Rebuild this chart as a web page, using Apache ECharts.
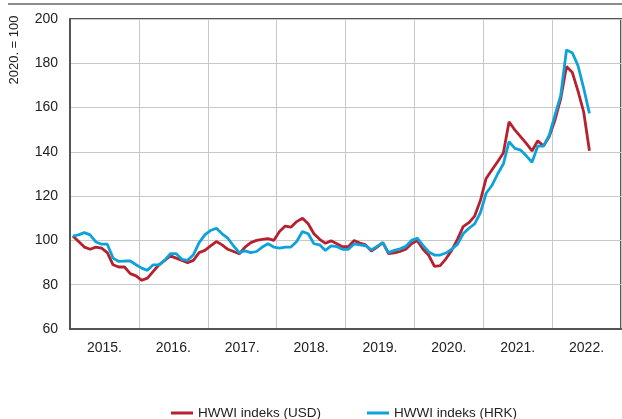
<!DOCTYPE html>
<html>
<head>
<meta charset="utf-8">
<script src="https://cdn.jsdelivr.net/npm/echarts@6/dist/echarts.min.js"></script>
<style>
  html, body { margin: 0; padding: 0; background: #fff; }
  #chart { width: 622px; height: 419px; }
</style>
</head>
<body>
<div id="chart"></div>
<script>
// year labels under the axis
var years = ['2015.', '2016.', '2017.', '2018.', '2019.', '2020.', '2021.', '2022.'];

// monthly values, Jan 2015 - Jul 2022 (2020. = 100)
var usd = [
  102, 99.5, 97, 96, 97, 96.5, 94.5, 89, 88, 88, 85, 84,
  82, 83, 86, 89, 91, 93, 92, 91, 90, 91, 94.5, 95.5,
  97.5, 99.5, 98, 96, 95, 94, 97, 99, 100, 100.5, 100.8, 100,
  104, 106.5, 106, 108.5, 110, 107.5, 103, 100.5, 98.7, 99.8, 98.5, 97.2,
  97.2, 100, 98.8, 98, 95.2, 97, 99, 94, 94.4, 95, 96, 98.5,
  100, 96, 93.3, 88.3, 88.6, 91.7, 95.5, 100.5, 106.2, 108, 111, 118,
  128, 131.8, 135.5, 139.5, 153.6, 149.9, 146.9, 143.8, 140.4, 145, 142.6, 146.9,
  154.4, 164, 178.5, 176, 167.5, 158, 140.5
];
var hrk = [
  102, 102.5, 103.5, 102.5, 99.3, 98.3, 98.3, 92, 90.5, 90.7, 90.7, 89,
  87.5, 86.5, 89, 89, 91, 94, 94, 91.5, 91, 93.5, 99, 102.5,
  104.5, 105.5, 103, 101, 97.5, 94.5, 95.3, 94.5, 95, 97, 98.5, 97,
  96.5, 97, 97, 99.5, 104, 103, 98.5, 98, 95.5, 97.5, 97.2, 96,
  96, 98.4, 98, 97.6, 95.7, 97.3, 99, 94.5, 95.5, 96.2, 97.3, 100,
  101, 97.8, 94.8, 93.4, 93.4, 94.3, 96, 98.2, 103, 105.5, 107.5, 112.5,
  121.3, 124.8, 130, 134.5, 144.6, 141.6, 140.8, 138.2, 135.3, 142.6, 142.6, 147.5,
  156.6, 165.5, 186, 184.8, 179, 168.7, 157.4
];

// one category per month over the 8 years shown
var months = [];
for (var y = 0; y < years.length; y++) {
  for (var m = 1; m <= 12; m++) {
    months.push(years[y] + m);
  }
}

var font = "'Liberation Sans', Arial, sans-serif";

var myChart = echarts.init(document.getElementById('chart'));
var option = {
  animation: false,
  textStyle: { fontFamily: font },
  grid: {
    left: 70, right: 1, top: 19, bottom: 90,
    show: true, borderColor: '#555', borderWidth: 2
  },
  legend: {
    left: 166, top: 401,
    itemWidth: 22, itemHeight: 3, itemGap: 46,
    icon: 'rect',
    textStyle: { fontFamily: font, fontSize: 13.5, color: '#222' },
    data: ['HWWI indeks (USD)', 'HWWI indeks (HRK)']
  },
  graphic: [
    {
      type: 'line',
      shape: { x1: 8, y1: 4, x2: 622, y2: 4 },
      style: { stroke: '#666', lineWidth: 1.5 }
    },
    {
      type: 'text',
      x: 14, y: 50, rotation: Math.PI / 2,
      style: {
        text: '2020. = 100', fontFamily: font, fontSize: 13, fill: '#222',
        textAlign: 'center', textVerticalAlign: 'middle'
      }
    }
  ],
  xAxis: [
    {
      type: 'category',
      data: months,
      boundaryGap: true,
      axisLine: { show: true, lineStyle: { color: '#555', width: 2 } },
      axisTick: { show: false },
      axisLabel: { show: false },
      splitLine: {
        show: true,
        interval: function (index) { return index % 12 === 0; },
        lineStyle: { color: '#c8c8c8', width: 1 }
      }
    },
    {
      type: 'category',
      data: years,
      position: 'bottom',
      boundaryGap: true,
      axisLine: { show: false },
      axisTick: { show: false },
      splitLine: { show: false },
      axisLabel: { margin: 12, fontSize: 14, color: '#222', fontFamily: font }
    }
  ],
  yAxis: {
    type: 'value',
    min: 60, max: 200, interval: 20,
    axisLine: { show: true, lineStyle: { color: '#555', width: 2 } },
    axisTick: { show: false },
    axisLabel: { margin: 12, fontSize: 14, color: '#222', fontFamily: font },
    splitLine: { show: true, lineStyle: { color: '#c8c8c8', width: 1 } }
  },
  series: [
    {
      name: 'HWWI indeks (USD)',
      type: 'line',
      xAxisIndex: 0,
      data: usd,
      showSymbol: false,
      color: '#b7202e',
      lineStyle: { width: 2.8 }
    },
    {
      name: 'HWWI indeks (HRK)',
      type: 'line',
      xAxisIndex: 0,
      data: hrk,
      showSymbol: false,
      color: '#0ea2da',
      lineStyle: { width: 2.8 }
    }
  ]
};
myChart.setOption(option);
</script>
</body>
</html>
